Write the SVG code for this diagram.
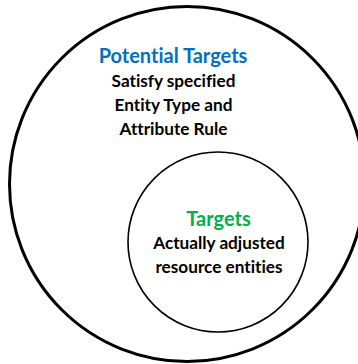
<svg xmlns="http://www.w3.org/2000/svg" width="358" height="364" viewBox="0 0 358 364">
<style>
.t{font-family:Lato,"Open Sans","Liberation Sans",sans-serif;font-weight:bold;text-anchor:middle;font-variant-ligatures:none}
.h{font-size:20px}
.b{font-size:17.2px;fill:#000}
</style>
<rect width="358" height="364" fill="#fff"/>
<g id="potential-targets">
<circle cx="187" cy="184" r="177.5" fill="none" stroke="#000" stroke-width="3"/>
<text class="t h" x="173" y="63" fill="#0070C0">Potential Targets</text>
<text class="t b" x="173.5" y="87">Satisfy specified</text>
<text class="t b" x="173.5" y="111">Entity Type and</text>
<text class="t b" x="173.5" y="135">Attribute Rule</text>
</g>
<g id="targets">
<circle cx="218" cy="242" r="90" fill="none" stroke="#000" stroke-width="1.6"/>
<text class="t h" x="218.5" y="226" fill="#00B050">Targets</text>
<text class="t b" x="219" y="249">Actually adjusted</text>
<text class="t b" x="219" y="273">resource entities</text>
</g>
<g id="connectors"/>
</svg>
